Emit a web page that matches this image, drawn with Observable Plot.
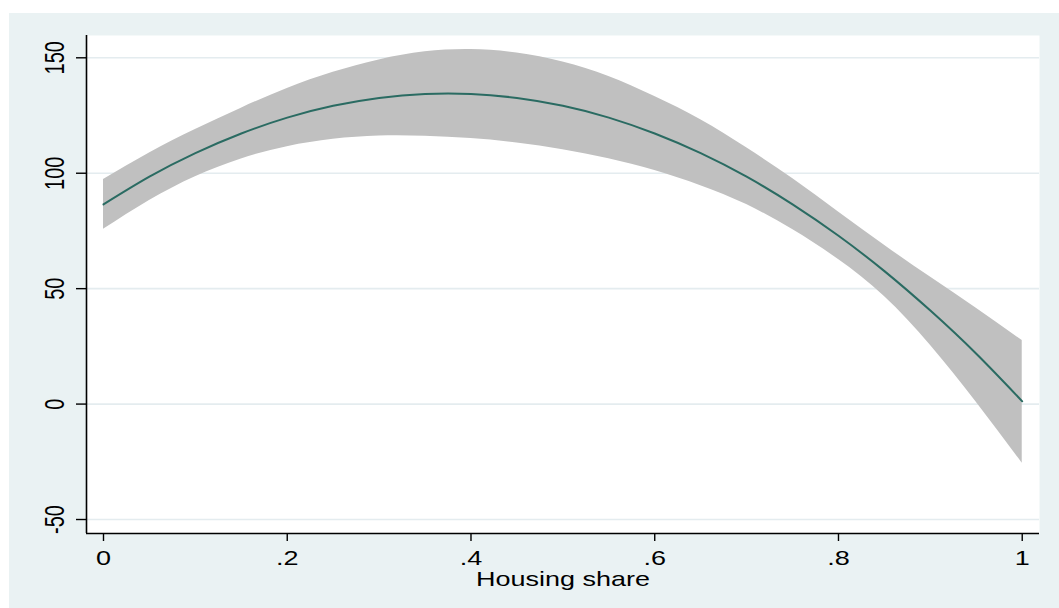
<!DOCTYPE html>
<html>
<head>
<meta charset="utf-8">
<script src="https://cdn.jsdelivr.net/npm/d3@7"></script>
<script src="https://cdn.jsdelivr.net/npm/@observablehq/plot@0.6"></script>
<style>
  html, body { margin: 0; padding: 0; background: #ffffff; }
  #chart { position: absolute; left: 9px; top: 13px; }
</style>
</head>
<body>
<div id="chart"></div>
<script>
// Fitted effect of housing share with its 95% confidence band
const share = [0, 0.05, 0.10, 0.15, 0.20, 0.25, 0.30, 0.35, 0.40, 0.45, 0.50,
               0.55, 0.60, 0.65, 0.70, 0.75, 0.80, 0.85, 0.90, 0.95, 1.00];
const fit   = [86.5, 98.5, 108.7, 117.2, 124.1, 129.2, 132.6, 134.3, 134.3, 132.6, 129.2,
               124.1, 117.2, 108.7, 98.5, 86.5, 72.9, 57.6, 40.5, 21.8, 1.2];
const upper = [97.3, 108.8, 118.9, 128.2, 136.7, 143.7, 149.1, 152.6, 153.6, 152.1, 148.2,
               141.9, 133.2, 123.2, 111.0, 97.7, 83.2, 68.8, 55.0, 41.5, 27.5];
const lower = [75.7, 88.2, 98.5, 106.2, 111.5, 114.7, 116.1, 116.0, 115.0, 113.1, 110.2,
               106.3, 101.2, 94.6, 86.4, 75.6, 62.6, 46.6, 25.5, 0.8, -25.6];

const xTicks = [0, 0.2, 0.4, 0.6, 0.8, 1];
const xTickLabels = ["0", ".2", ".4", ".6", ".8", "1"];
const yTicks = [-50, 0, 50, 100, 150];
const yTickLabels = ["-50", "0", "50", "100", "150"];
const xTitle = "Housing share";

const xDomain = [-0.0185, 1.0188];
const yDomain = [-56.06, 159.66];

const rows = share.map((s, i) => ({share: s, fit: fit[i], upper: upper[i], lower: lower[i]}));
const font = "'Liberation Sans', Arial, sans-serif";

const plot = Plot.plot({
  width: 1050,
  height: 595,
  marginLeft: 77,
  marginRight: 20,
  marginTop: 22,
  marginBottom: 75,
  style: {background: "#EAF2F3", fontFamily: font, overflow: "visible"},
  x: {domain: xDomain, axis: null, label: null},
  y: {domain: yDomain, axis: null, label: null},
  marks: [
    Plot.frame({fill: "white", stroke: null}),
    Plot.gridY(yTicks, {stroke: "#E4ECEF", strokeOpacity: 1, strokeWidth: 1.6}),
    Plot.areaY(rows, {x: "share", y1: "lower", y2: "upper", fill: "#C0C0C0", fillOpacity: 1, curve: "natural"}),
    Plot.line(rows, {x: "share", y: "fit", stroke: "#2A6B62", strokeWidth: 2, curve: "natural"}),
    Plot.ruleX([xDomain[0]], {stroke: "black", strokeWidth: 1.6}),
    Plot.ruleY([yDomain[0]], {stroke: "black", strokeWidth: 1.6}),
    Plot.axisY({ticks: yTicks, tickSize: 10, tickFormat: () => "", label: null, stroke: "black", strokeWidth: 1.4}),
    Plot.axisX({ticks: xTicks, tickSize: 8, tickFormat: () => "", label: null, stroke: "black", strokeWidth: 1.4}),
    Plot.text(yTicks, {
      x: xDomain[0], y: (d) => d, text: (_, i) => yTickLabels[i],
      rotate: -90, dx: -31, fontSize: 20, lineAnchor: "middle", fill: "black", ariaLabel: "y tick label"
    }),
    Plot.text(xTicks, {
      x: (d) => d, y: yDomain[0], text: (_, i) => xTickLabels[i],
      dy: 25, fontSize: 20, lineAnchor: "middle", fill: "black", ariaLabel: "x tick label"
    }),
    Plot.text([xTitle], {
      frameAnchor: "bottom", dy: 46, fontSize: 20, lineAnchor: "middle", fill: "black", ariaLabel: "x title"
    })
  ]
});

document.getElementById("chart").appendChild(plot);

// Widen the glyphs horizontally, as in the exported graph's typeface
d3.select(plot).selectAll("text").each(function () {
  const t = d3.select(this);
  if (!t.text()) return;
  let tr = t.attr("transform") || "";
  if (!tr) {
    const x = +(t.attr("x") || 0), y = +(t.attr("y") || 0);
    t.attr("x", null).attr("y", null);
    tr = `translate(${x},${y})`;
  }
  t.attr("transform", tr + (tr.includes("rotate(-90") ? " scale(1,1.4)" : " scale(1.35,1)"));
});
</script>
</body>
</html>
